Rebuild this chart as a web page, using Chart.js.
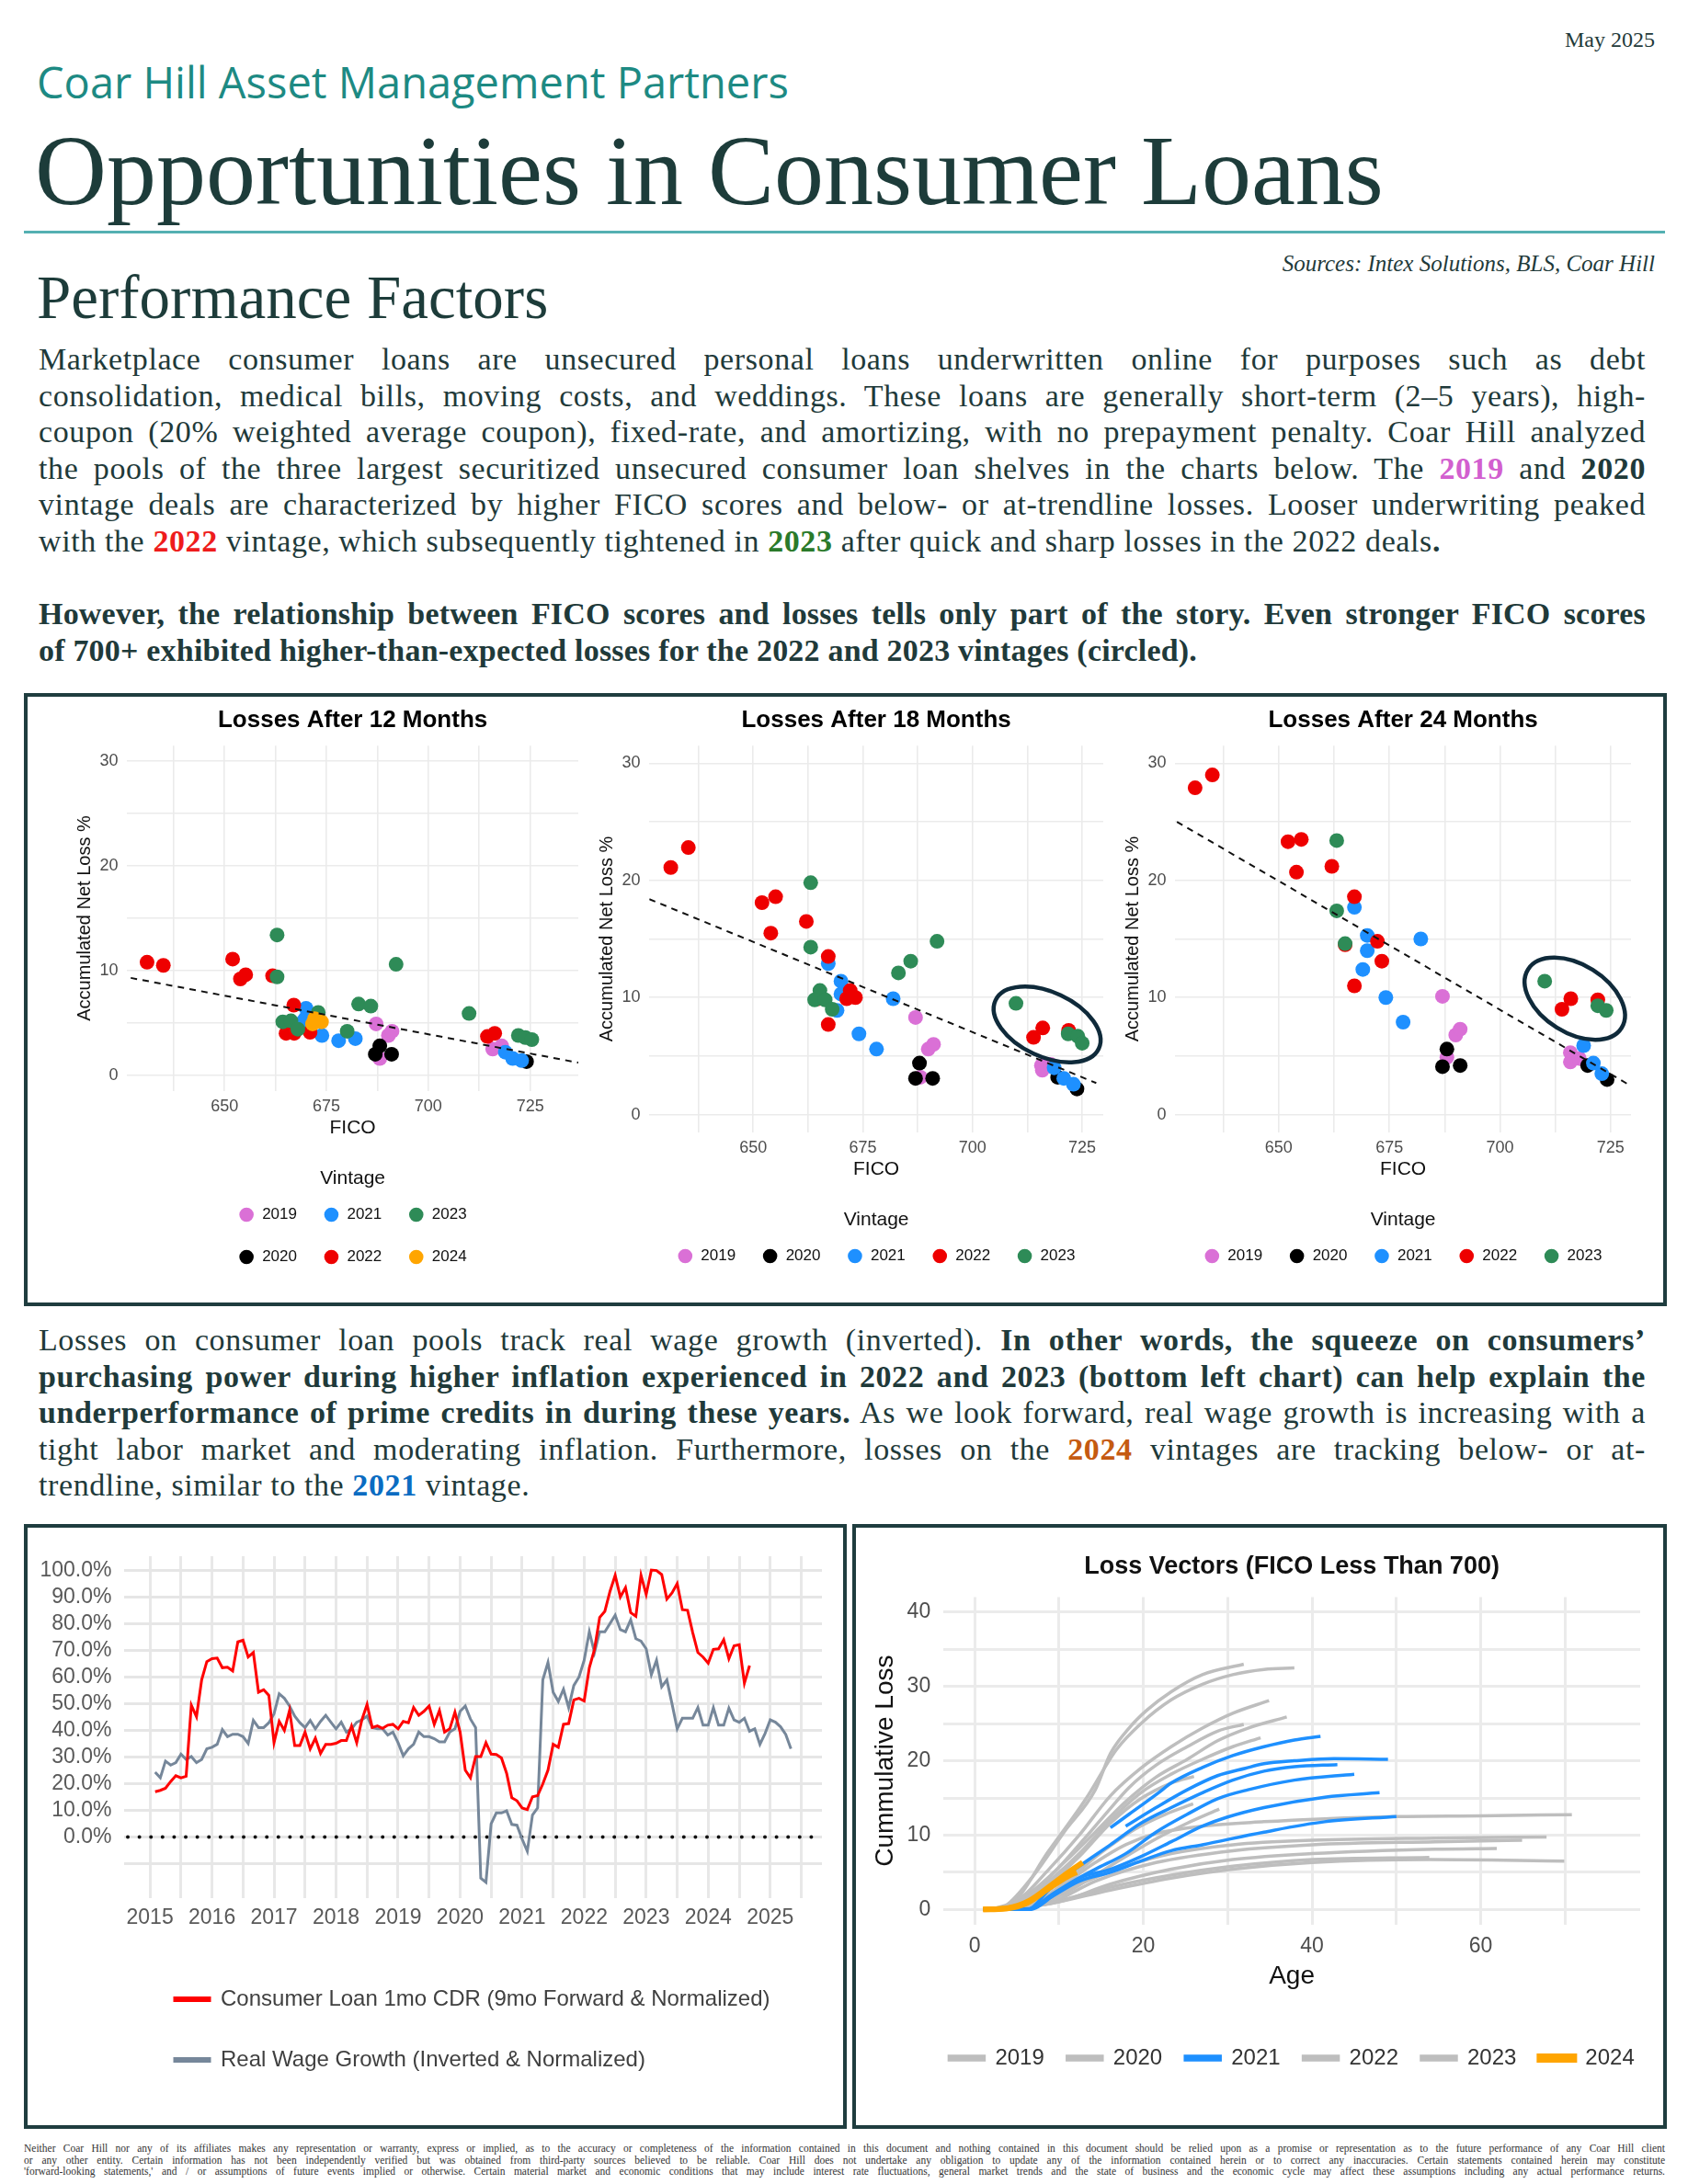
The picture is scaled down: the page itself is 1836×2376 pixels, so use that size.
<!DOCTYPE html>
<html lang="en">
<head>
<meta charset="utf-8">
<title>Opportunities in Consumer Loans</title>
<script src="https://cdn.jsdelivr.net/npm/chart.js@4.4.1/dist/chart.umd.min.js"></script>
<style>
  body { margin: 0; width: 1836px; height: 2376px; position: relative; overflow: hidden;
         background: #fff; color: #1f3a3a; font-family: "Liberation Serif", serif; }
  .abs { position: absolute; }
  #date { right: 36px; top: 29px; font-size: 24px; line-height: 28px; }
  #firm { left: 40px; top: 60px; font: 47px/58px "Open Sans", sans-serif; color: #1d8a83; }
  #title { left: 38px; top: 122px; font-size: 108px; line-height: 128px; color: #1d3c3a; }
  #rule { left: 26px; top: 251px; width: 1785px; height: 3px; background: #54b0b2; }
  #sources { right: 36px; top: 272px; font-style: italic; font-size: 25px; line-height: 30px; }
  #section { left: 40px; top: 286px; font-size: 67px; line-height: 74px; color: #1d3c3a; }
  .para { left: 42px; width: 1748px; font-size: 34px; line-height: 39.5px; letter-spacing: 0.6px; }
  .para.bold { font-weight: bold; letter-spacing: 0.2px; }
  .ln { text-align: justify; text-align-last: justify; white-space: normal; }
  .ln.end { text-align-last: left; }
  .pink { color: #d25fcf; font-weight: bold; }
  .red { color: #ee1c1c; font-weight: bold; }
  .grn { color: #2a7a2a; font-weight: bold; }
  .org { color: #c55a11; font-weight: bold; }
  .blu { color: #0a6cc2; font-weight: bold; }
  .box { position: absolute; border: 4px solid #1f3d3f; box-sizing: border-box; }
  canvas { position: absolute; }
  #footer { left: 26px; top: 2331px; width: 1785px; font-size: 11.5px; line-height: 12.5px; color: #333; }
</style>
</head>
<body>
<div class="abs" id="date">May 2025</div>
<div class="abs" id="firm">Coar Hill Asset Management Partners</div>
<div class="abs" id="title">Opportunities in Consumer Loans</div>
<div class="abs" id="rule"></div>
<div class="abs" id="sources">Sources: Intex Solutions, BLS, Coar Hill</div>
<div class="abs" id="section">Performance Factors</div>

<div class="abs para" style="top:371px">
  <div class="ln">Marketplace consumer loans are unsecured personal loans underwritten online for purposes such as debt</div>
  <div class="ln">consolidation, medical bills, moving costs, and weddings. These loans are generally short-term (2–5 years), high-</div>
  <div class="ln">coupon (20% weighted average coupon), fixed-rate, and amortizing, with no prepayment penalty. Coar Hill analyzed</div>
  <div class="ln">the pools of the three largest securitized unsecured consumer loan shelves in the charts below. The <span class="pink">2019</span> and <b>2020</b></div>
  <div class="ln">vintage deals are characterized by higher FICO scores and below- or at-trendline losses. Looser underwriting peaked</div>
  <div class="ln end">with the <span class="red">2022</span> vintage, which subsequently tightened in <span class="grn">2023</span> after quick and sharp losses in the 2022 deals<b>.</b></div>
</div>

<div class="abs para bold" style="top:648px">
  <div class="ln">However, the relationship between FICO scores and losses tells only part of the story. Even stronger FICO scores</div>
  <div class="ln end">of 700+ exhibited higher-than-expected losses for the 2022 and 2023 vintages (circled).</div>
</div>

<div class="box" style="left:26px; top:754px; width:1787px; height:667px"></div>
<canvas id="c12" width="612" height="657" style="left:30px; top:758px"></canvas>
<canvas id="c18" width="570" height="657" style="left:642px; top:758px"></canvas>
<canvas id="c24" width="597" height="657" style="left:1212px; top:758px"></canvas>

<div class="abs para" style="top:1438px">
  <div class="ln">Losses on consumer loan pools track real wage growth (inverted). <b>In other words, the squeeze on consumers’</b></div>
  <div class="ln"><b>purchasing power during higher inflation experienced in 2022 and 2023 (bottom left chart) can help explain the</b></div>
  <div class="ln"><b>underperformance of prime credits in during these years.</b> As we look forward, real wage growth is increasing with a</div>
  <div class="ln">tight labor market and moderating inflation. Furthermore, losses on the <span class="org">2024</span> vintages are tracking below- or at-</div>
  <div class="ln end">trendline, similar to the <span class="blu">2021</span> vintage.</div>
</div>

<div class="box" style="left:26px; top:1658px; width:895px; height:658px"></div>
<div class="box" style="left:927px; top:1658px; width:886px; height:658px"></div>
<canvas id="wage" width="887" height="650" style="left:30px; top:1662px"></canvas>
<canvas id="vectors" width="878" height="650" style="left:931px; top:1662px"></canvas>

<div class="abs" id="footer">
  <div class="ln">Neither Coar Hill nor any of its affiliates makes any representation or warranty, express or implied, as to the accuracy or completeness of the information contained in this document and nothing contained in this document should be relied upon as a promise or representation as to the future performance of any Coar Hill client</div>
  <div class="ln">or any other entity. Certain information has not been independently verified but was obtained from third-party sources believed to be reliable. Coar Hill does not undertake any obligation to update any of the information contained herein or to correct any inaccuracies. Certain statements contained herein may constitute</div>
  <div class="ln">'forward-looking statements,' and / or assumptions of future events implied or otherwise. Certain material market and economic conditions that may include interest rate fluctuations, general market trends and the state of business and the economic cycle may affect these assumptions including any actual performance returns.</div>
</div>

<script>
// ---------- scatter panels: [FICO, accumulated net loss %] ----------
var vintages = ['2019', '2020', '2021', '2022', '2023', '2024'];

var m12_2019 = [[687.2, 4.9], [688.1, 1.6], [690.2, 3.8], [691.1, 4.2], [715.8, 2.5], [718.0, 2.8]];
var m12_2020 = [[687.0, 2.0], [688.1, 2.8], [691.0, 2.0], [724.1, 1.3]];
var m12_2021 = [[670.0, 6.4], [669.8, 5.4], [668.9, 5.0], [673.9, 3.8], [678.0, 3.3], [682.1, 3.5], [718.9, 2.2], [720.7, 1.6], [722.9, 1.4]];
var m12_2022 = [[631.0, 10.8], [635.0, 10.5], [652.0, 11.1], [653.9, 9.2], [655.2, 9.6], [661.8, 9.5], [667.0, 6.7], [665.1, 4.0], [667.1, 4.0], [671.0, 4.1], [714.5, 3.7], [716.3, 4.0]];
var m12_2023 = [[662.9, 13.4], [662.9, 9.4], [682.9, 6.8], [685.9, 6.6], [692.1, 10.6], [680.1, 4.2], [664.3, 5.1], [666.3, 5.2], [668.0, 4.4], [673.0, 6.0], [710.0, 5.9], [722.1, 3.8], [723.8, 3.6], [725.4, 3.4]];
var m12_2024 = [[671.6, 4.9], [673.8, 5.1], [672.1, 5.4]];
var m12Trend = [[627.0, 9.3], [736.8, 1.2]];

var m18_2019 = [[687.0, 8.3], [689.9, 5.6], [691.1, 6.0], [688.1, 3.2], [715.9, 3.8], [715.7, 4.2], [717.8, 4.3]];
var m18_2020 = [[687.9, 4.4], [687.0, 3.1], [690.9, 3.1], [719.4, 3.2], [723.8, 2.2]];
var m18_2021 = [[667.1, 12.9], [670.0, 11.4], [670.0, 10.3], [669.1, 8.9], [674.1, 6.9], [678.1, 5.6], [681.9, 9.9], [718.6, 4.0], [720.8, 3.1], [723.0, 2.6]];
var m18_2022 = [[631.2, 21.1], [635.2, 22.8], [652.0, 18.1], [655.1, 18.6], [654.0, 15.5], [662.1, 16.5], [667.1, 13.5], [667.1, 7.7], [672.1, 10.6], [671.3, 9.9], [673.3, 10.0], [664.8, 9.9], [713.9, 6.6], [716.0, 7.4], [721.9, 7.2]];
var m18_2023 = [[663.1, 19.8], [663.1, 14.3], [665.2, 10.6], [664.0, 9.8], [666.4, 9.8], [668.0, 9.0], [683.1, 12.1], [685.9, 13.1], [691.9, 14.8], [709.9, 9.5], [721.8, 6.9], [724.0, 6.7], [725.0, 6.1]];
var m18Trend = [[626.3, 18.4], [728.2, 2.7]];

var m24_2019 = [[687.0, 10.1], [690.0, 6.8], [691.0, 7.3], [688.0, 4.9], [715.9, 5.3], [715.9, 4.5], [717.9, 4.8]];
var m24_2020 = [[688.0, 5.6], [687.0, 4.1], [691.0, 4.2], [719.8, 4.2], [724.2, 3.0]];
var m24_2021 = [[667.1, 17.7], [670.0, 15.3], [670.0, 14.0], [669.0, 12.4], [674.2, 10.0], [678.1, 7.9], [682.1, 15.0], [718.9, 5.9], [721.1, 4.4], [723.0, 3.5]];
var m24_2022 = [[631.1, 27.9], [635.0, 29.0], [652.1, 23.3], [655.1, 23.5], [654.0, 20.7], [662.0, 21.2], [667.1, 18.6], [672.3, 14.8], [673.3, 13.1], [667.1, 11.0], [665.0, 14.5], [714.0, 9.0], [716.0, 9.9], [722.1, 9.8]];
var m24_2023 = [[663.1, 23.4], [663.1, 17.4], [665.0, 14.6], [710.1, 11.4], [722.1, 9.3], [724.0, 8.9]];
var m24Trend = [[627.0, 25.0], [729.6, 2.45]];

// circled 2022/2023 clusters (centre in FICO / loss units)
var m18Circle = [717.0, 7.7];
var m24Circle = [716.9, 9.9];

// ---------- CDR vs real wage growth, monthly, months after Jan 2015 ----------
var wageYears = ['2015', '2016', '2017', '2018', '2019', '2020', '2021', '2022', '2023', '2024', '2025'];
var seriesStart = 1;
var cdrValues = [17.0, 17.5, 18.3, 20.8, 23.0, 22.2, 22.8, 49.5, 45.2, 59.0,
  65.9, 67.0, 67.2, 63.6, 63.8, 62.4, 73.3, 73.9, 67.6, 69.3,
  54.4, 55.3, 53.2, 35.4, 43.4, 40.0, 47.5, 34.3, 34.3, 39.4,
  33.1, 37.1, 31.4, 34.8, 34.8, 35.2, 36.2, 36.2, 41.7, 35.4,
  44.0, 49.8, 41.1, 41.7, 40.8, 42.0, 42.3, 40.6, 43.4, 42.9,
  48.6, 45.7, 47.2, 49.2, 42.3, 47.5, 39.4, 40.6, 46.9, 39.4,
  25.1, 22.2, 30.2, 30.2, 35.4, 31.1, 31.0, 29.7, 23.9, 14.7,
  13.6, 10.9, 10.3, 15.1, 15.5, 19.9, 25.1, 34.8, 33.7, 42.3,
  42.6, 51.5, 52.1, 51.1, 63.6, 70.5, 82.5, 84.8, 92.3, 98.3,
  90.2, 93.7, 84.3, 82.9, 98.3, 91.1, 100.3, 100.1, 98.6, 89.4,
  91.7, 95.2, 85.4, 85.2, 76.8, 69.3, 67.6, 65.3, 70.5, 70.7,
  74.1, 67.0, 71.8, 72.2, 57.8, 64.4];
var wageValues = [24.3, 22.2, 28.5, 27.0, 27.9, 31.1, 29.1, 30.2, 27.9, 29.1,
  33.1, 33.7, 34.8, 40.3, 37.7, 38.6, 38.6, 37.7, 35.1, 43.8,
  41.1, 41.1, 42.9, 46.3, 53.8, 52.1, 49.2, 45.4, 42.9, 41.1,
  43.8, 40.6, 43.4, 45.7, 43.1, 40.6, 43.1, 39.4, 40.6, 43.1,
  44.0, 45.4, 41.1, 40.6, 40.6, 38.3, 39.4, 35.4, 30.5, 33.1,
  34.8, 39.4, 37.7, 37.7, 36.9, 35.7, 35.7, 39.4, 40.6, 47.2,
  49.2, 44.3, 41.1, -15.5, -17.1, 4.9, 9.0, 9.0, 9.8, 4.7,
  4.4, -0.8, -5.4, 8.2, 10.9, 59.0, 65.6, 54.4, 50.9, 55.5,
  48.6, 56.9, 60.1, 66.4, 77.1, 69.3, 77.1, 77.1, 80.2, 83.3,
  77.9, 77.1, 81.6, 74.5, 73.6, 70.7, 61.0, 66.4, 56.4, 59.0,
  50.0, 40.6, 44.6, 44.6, 44.6, 48.6, 42.0, 42.0, 48.6, 42.0,
  42.0, 48.4, 44.0, 43.1, 44.6, 39.7, 40.6, 34.8, 38.9, 44.0,
  43.1, 41.4, 38.5, 33.1];

// ---------- loss vectors: each deal is a list of [age, cumulative loss] ----------
var vec2019 = [
  [[1, 0], [4, 0.1], [7, 0.9], [10.6, 3.4], [14.3, 6.3], [17.9, 8.7], [21.5, 10.2], [27, 11.2], [34.3, 11.8], [41.5, 12.2], [50, 12.5], [60, 12.6], [70.8, 12.75]],
  [[1, 0], [4, 0.1], [7, 0.7], [12.4, 3.4], [17.9, 5.8], [23.3, 7.5], [30.6, 8.7], [40, 9.3], [54.6, 9.6], [67.8, 9.75]],
  [[1, 0], [5, 0.2], [9, 0.9], [14.3, 3.8], [21.5, 6.3], [30.6, 7.9], [40, 8.7], [54.6, 9.1], [64.9, 9.3]],
  [[1, 0], [5, 0.2], [9, 0.8], [16.1, 2.6], [23.3, 4.2], [30.6, 5.4], [40, 6.3], [53.9, 6.7], [69.9, 6.5]]
];
var vec2020 = [
  [[1, 0], [5, 0.2], [10, 1.0], [16.1, 3.4], [23.3, 5.4], [30.6, 6.7], [40, 7.5], [54.6, 8.1], [61.9, 8.2]],
  [[1, 0], [5, 0.2], [9, 0.9], [16.1, 3.0], [23.3, 4.6], [30.6, 5.8], [40, 6.7], [53.9, 7.0]]
];
var vec2021 = [
  [[16.1, 11.0], [18.3, 12.8], [21.8, 15.7], [23.3, 17.0], [27, 19.1], [30.6, 20.7], [34.3, 21.9], [37.9, 22.8], [41, 23.3]],
  [[17.9, 11.2], [21.5, 13.7], [25.2, 16.1], [28.8, 18.0], [32.1, 19.0], [34.3, 19.6], [37.9, 20.0], [42.6, 20.3], [49, 20.2]],
  [[1, 0], [6.3, 0], [8.8, 2.6], [12.4, 5.8], [16.1, 8.7], [19.7, 11.6], [23.3, 13.7], [27, 15.7], [30.6, 17.4], [34.3, 18.6], [37.9, 19.2], [43, 19.5]],
  [[1, 0], [6.5, 0.1], [9, 1.9], [11.7, 3.8], [14.3, 5.4], [17.9, 7.5], [21.5, 10.4], [25.2, 12.8], [28.8, 14.9], [32.4, 16.1], [37.9, 17.4], [45, 18.2]],
  [[1, 0], [6.5, 0], [9.5, 2.0], [12.4, 4.2], [16.1, 5.4], [19.7, 7.1], [23.3, 9.1], [27, 11.2], [29.9, 12.4], [34.3, 13.7], [41.5, 15.1], [48, 15.7]],
  [[1, 0], [6.3, 0], [8.8, 1.5], [12.4, 3.8], [16.1, 5.0], [19.7, 6.5], [23.3, 7.9], [27, 8.7], [34.3, 10.4], [41.5, 11.8], [50, 12.5]]
];
var vec2022 = [
  [[2, 0], [3.7, 0.5], [7, 4.6], [10.6, 10.4], [14.3, 16.1], [16.1, 21.0], [18.3, 24.4], [20.4, 26.8], [23.3, 29.3], [27, 31.6], [31.9, 33.0]],
  [[2, 0], [4, 0.4], [8.8, 7.9], [13.2, 14.9], [16.8, 21.5], [19.7, 25.0], [23.3, 28.2], [27, 30.3], [30.6, 31.6], [34.3, 32.3], [37.9, 32.5]],
  [[2, 0], [5.2, 1.3], [8.8, 5.4], [12.4, 10.0], [16.1, 15.3], [19.7, 19.0], [23.3, 21.9], [27, 24.4], [30.6, 26.4], [34.9, 28.1]],
  [[2, 0], [4.1, 0.5], [7, 2.6], [10.6, 6.3], [14.3, 10.4], [17.9, 14.5], [21.5, 17.8], [25.2, 20.2], [28.8, 22.7], [32.4, 24.4], [37, 25.9]],
  [[2, 0], [5, 0.8], [9, 4.5], [13, 9.5], [16.1, 13.6], [18.3, 16.4], [21.5, 19.4], [25.2, 21.9], [28.8, 24.0], [31.9, 24.9]],
  [[2, 0], [5.2, 0.9], [8.8, 3.8], [12.4, 7.5], [16.1, 12.0], [19.7, 15.7], [23.3, 18.2], [27, 20.2], [30.6, 21.9], [33.9, 23.1]]
];
var vec2023 = [
  [[2, 0], [5.2, 0.7], [8.8, 3.4], [12.4, 7.1], [16.1, 11.6], [19.7, 14.9], [23.3, 17.0], [26, 17.9]],
  [[2, 0], [5, 0.3], [8.1, 1.5], [11.7, 4.6], [15.3, 7.9], [19, 10.8], [22.6, 12.8], [25.9, 14.2]],
  [[2, 0], [7, 0.5], [10.6, 2.1], [14.3, 4.6], [17.9, 7.1], [21.5, 9.5], [25.2, 11.6], [29, 13.5]]
];
var vec2024 = [
  [[1, 0], [3.7, 0.1], [6.3, 0.9], [8.8, 2.8], [11, 4.4], [12.1, 5.0]],
  [[1, 0], [4, 0.2], [6.5, 1.2], [9, 3.2], [11, 4.9], [12.8, 6.3]]
];

// ---------- styling ----------
var vintageColor = {'2019': '#da70d6', '2020': '#000000', '2021': '#1e90ff', '2022': '#ee0000', '2023': '#2e8b57', '2024': '#ffa500'};
var vectorColor = {'2019': '#bebebe', '2020': '#bebebe', '2021': '#1e90ff', '2022': '#bebebe', '2023': '#bebebe', '2024': '#ffa500'};
var vectorLayer = {'2019': 3, '2020': 3, '2021': 2, '2022': 3, '2023': 3, '2024': 1};

Chart.defaults.font.family = '"Liberation Sans", Arial, sans-serif';
Chart.defaults.animation = false;
Chart.defaults.events = [];

// wrap a legend at a chosen width, centred on the plot area, or nudge it sideways
var legendWidth = {
	id: 'legendWidth',
	beforeLayout(chart, args, opts) {
		var lg = chart.legend;
		if (!lg || !opts.width || lg._wrapped) return;
		var update = lg.update.bind(lg);
		lg.update = (w, h, m) => update(opts.width, h, m);
		lg._wrapped = true;
	},
	afterLayout(chart, args, opts) {
		var lg = chart.legend;
		if (!lg) return;
		if (opts.width) {
			var c = (chart.chartArea.left + chart.chartArea.right) / 2;
			lg.left = c - opts.width / 2;
			lg.right = c + opts.width / 2;
			lg.width = opts.width;
		}
		if (opts.shift) {
			lg.left += opts.shift;
			lg.right += opts.shift;
		}
	}
};

// ellipse round a cluster of points
var ring = {
	id: 'ring',
	afterDatasetsDraw(chart, args, opts) {
		if (!opts.center) return;
		var ctx = chart.ctx;
		ctx.save();
		ctx.beginPath();
		ctx.ellipse(chart.scales.x.getPixelForValue(opts.center[0]), chart.scales.y.getPixelForValue(opts.center[1]),
			opts.rx, opts.ry, opts.angle * Math.PI / 180, 0, 2 * Math.PI);
		ctx.lineWidth = 4.5;
		ctx.strokeStyle = '#0f2a3a';
		ctx.stroke();
		ctx.restore();
	}
};

// dotted line at 0%
var zeroLine = {
	id: 'zeroLine',
	beforeDatasetsDraw(chart) {
		var ctx = chart.ctx, a = chart.chartArea;
		var y = chart.scales.y.getPixelForValue(0);
		ctx.save();
		ctx.setLineDash([0, 12.6]);
		ctx.lineCap = 'round';
		ctx.lineWidth = 4;
		ctx.strokeStyle = '#111';
		ctx.beginPath();
		ctx.moveTo(a.left + 4, y);
		ctx.lineTo(a.right, y);
		ctx.stroke();
		ctx.restore();
	}
};

function pairs(list) {
	return list.map(p => ({x: p[0], y: p[1]}));
}

function lossPanel(id, title, sets, trend, xr, o) {
	var datasets = [];
	vintages.forEach((v, i) => {
		if (!sets[v]) return;
		datasets.push({type: 'scatter', label: v, data: pairs(sets[v]), backgroundColor: vintageColor[v],
			borderWidth: 0, pointRadius: 8, order: 10 - i});
	});
	datasets.push({type: 'line', label: 'trend', data: pairs(trend), borderColor: '#111', borderWidth: 2,
		borderDash: [7, 6], pointRadius: 0, fill: false, order: 0});

	return new Chart(document.getElementById(id), {
		type: 'scatter',
		data: {datasets: datasets},
		plugins: [legendWidth, ring],
		options: {
			responsive: false,
			layout: {padding: {left: o.left, right: o.right, top: 0, bottom: o.bottom}},
			plugins: {
				title: {display: true, text: title, color: '#000', fullSize: false,
					font: {size: 26, weight: 'bold'}, padding: {top: 10, bottom: 12}},
				legend: {
					position: 'bottom', fullSize: false,
					title: {display: true, text: 'Vintage', color: '#111', font: {size: 21, lineHeight: 0.6},
						padding: {top: 10, bottom: 0}},
					labels: {
						usePointStyle: true, pointStyle: 'circle', boxHeight: 11, padding: 29,
						color: '#111', font: {size: 17},
						filter: item => item.text !== 'trend',
						sort: (a, b) => o.order.indexOf(a.text) - o.order.indexOf(b.text)
					}
				},
				legendWidth: {width: o.legendWidth},
				ring: o.ring || {}
			},
			scales: {
				x: {
					type: 'linear', min: xr[0], max: xr[1],
					afterBuildTicks: axis => {
						var t = [];
						for (var v = Math.ceil(axis.min / 12.5) * 12.5; v <= axis.max; v += 12.5) t.push({value: v});
						axis.ticks = t;
					},
					ticks: {autoSkip: false, maxRotation: 0, padding: 8, color: '#4d4d4d', font: {size: 18, lineHeight: 1.0},
						callback: v => (v % 25 === 0 ? String(v) : '')},
					grid: {color: '#ebebeb', lineWidth: 1.6, drawTicks: false},
					border: {display: false},
					title: {display: true, text: 'FICO', color: '#111', font: {size: 21, lineHeight: 0.6},
						padding: {top: 0, bottom: 28}}
				},
				y: {
					min: -1.5, max: 31.5,
					afterBuildTicks: axis => {
						axis.ticks = [0, 5, 10, 15, 20, 25, 30].map(v => ({value: v}));
					},
					ticks: {padding: 9.6, color: '#4d4d4d', font: {size: 18},
						callback: v => (v % 10 === 0 ? String(v) : '')},
					grid: {color: '#ebebeb', lineWidth: 1.6, drawTicks: false},
					border: {display: false},
					title: {display: true, text: 'Accumulated Net Loss %', color: '#111', font: {size: 20, lineHeight: 0.7},
						padding: {top: 4, bottom: 0}}
				}
			}
		}
	});
}

var yearOrder = ['2019', '2020', '2021', '2022', '2023', '2024'];

lossPanel('c12', 'Losses After 12 Months',
	{'2019': m12_2019, '2020': m12_2020, '2021': m12_2021, '2022': m12_2022, '2023': m12_2023, '2024': m12_2024},
	m12Trend, [626.1, 736.8],
	{left: 51, right: 13, bottom: 29, legendWidth: 340, order: ['2019', '2021', '2023', '2020', '2022', '2024']});

lossPanel('c18', 'Losses After 18 Months',
	{'2019': m18_2019, '2020': m18_2020, '2021': m18_2021, '2022': m18_2022, '2023': m18_2023},
	m18Trend, [626.3, 729.8],
	{left: 7, right: 12, bottom: 30, legendWidth: 560, order: yearOrder,
		ring: {center: m18Circle, rx: 62, ry: 35, angle: 25}});

lossPanel('c24', 'Losses After 24 Months',
	{'2019': m24_2019, '2020': m24_2020, '2021': m24_2021, '2022': m24_2022, '2023': m24_2023},
	m24Trend, [626.6, 729.6],
	{left: 9, right: 35, bottom: 30, legendWidth: 560, order: yearOrder,
		ring: {center: m24Circle, rx: 60, ry: 37, angle: 32}});

// ---------- bottom left: CDR vs real wage growth ----------
function monthly(values) {
	return values.map((v, i) => ({x: seriesStart + i, y: v}));
}

new Chart(document.getElementById('wage'), {
	type: 'line',
	data: {
		datasets: [
			{label: 'Consumer Loan 1mo CDR (9mo Forward & Normalized)', data: monthly(cdrValues),
				borderColor: '#ff0000', backgroundColor: '#ff0000', borderWidth: 3, pointRadius: 0, tension: 0},
			{label: 'Real Wage Growth (Inverted & Normalized)', data: monthly(wageValues),
				borderColor: '#76879a', backgroundColor: '#76879a', borderWidth: 3, pointRadius: 0, tension: 0}
		]
	},
	plugins: [zeroLine, legendWidth],
	options: {
		responsive: false,
		layout: {padding: {left: 0, right: 23, top: 31, bottom: 49}},
		plugins: {
			legend: {
				position: 'bottom', align: 'start', fullSize: false,
				labels: {boxWidth: 38, boxHeight: 3, padding: 42, color: '#404040', font: {size: 24}}
			},
			legendWidth: {shift: 13}
		},
		scales: {
			x: {
				type: 'linear', min: -5, max: 130,
				afterBuildTicks: axis => {
					var t = [];
					for (var v = 0; v <= wageYears.length * 12 - 6; v += 6) t.push({value: v});
					axis.ticks = t;
				},
				ticks: {autoSkip: false, maxRotation: 0, padding: 11.2, color: '#595959', font: {size: 23, lineHeight: 0.94},
					callback: v => (v % 12 === 0 ? wageYears[v / 12] : '')},
				grid: {color: '#e8e8e8', lineWidth: 3, drawTicks: false},
				border: {display: false},
				title: {display: true, text: ' ', font: {size: 10, lineHeight: 1.2}, padding: 0}
			},
			y: {
				min: -23, max: 105.5,
				afterBuildTicks: axis => {
					var t = [];
					for (var v = -10; v <= 105; v += 5) t.push({value: v});
					axis.ticks = t;
				},
				ticks: {padding: 13.5, color: '#595959', font: {size: 23},
					callback: v => (v >= 0 && v <= 100 && v % 10 === 0 ? v.toFixed(1) + '%' : '')},
				grid: {color: '#e6e6e6', lineWidth: 3, drawTicks: false},
				border: {display: false}
			}
		}
	}
});

// ---------- bottom right: loss vectors ----------
var vectorSets = {'2019': vec2019, '2020': vec2020, '2021': vec2021, '2022': vec2022, '2023': vec2023, '2024': vec2024};
var vectorDatasets = [];
yearOrder.forEach(v => {
	vectorSets[v].forEach(curve => {
		vectorDatasets.push({
			label: v, data: pairs(curve), borderColor: vectorColor[v], backgroundColor: vectorColor[v],
			borderWidth: v === '2024' ? 6 : 3.5, pointRadius: 0, cubicInterpolationMode: 'monotone',
			order: vectorLayer[v]
		});
	});
});

new Chart(document.getElementById('vectors'), {
	type: 'line',
	data: {datasets: vectorDatasets},
	plugins: [legendWidth],
	options: {
		responsive: false,
		layout: {padding: {left: 18, right: 25, top: 0, bottom: 51}},
		plugins: {
			title: {display: true, text: 'Loss Vectors (FICO Less Than 700)', color: '#111', fullSize: false,
				font: {size: 27, weight: 'bold'}, padding: {top: 26, bottom: 17}},
			legend: {
				position: 'bottom', fullSize: false,
				labels: {
					boxWidth: 38, boxHeight: 4, padding: 25, color: '#333', font: {size: 24},
					filter: (item, data) => data.datasets.findIndex(d => d.label === item.text) === item.datasetIndex,
					sort: (a, b) => yearOrder.indexOf(a.text) - yearOrder.indexOf(b.text)
				}
			},
			legendWidth: {width: 840}
		},
		scales: {
			x: {
				type: 'linear', min: -3.7, max: 78.9,
				afterBuildTicks: axis => {
					axis.ticks = [0, 10, 20, 30, 40, 50, 60, 70].map(v => ({value: v}));
				},
				ticks: {autoSkip: false, maxRotation: 0, padding: 12.75, color: '#4d4d4d', font: {size: 23, lineHeight: 0.98},
					callback: v => (v % 20 === 0 ? String(v) : '')},
				grid: {color: '#ebebeb', lineWidth: 3, drawTicks: false},
				border: {display: false},
				title: {display: true, text: 'Age', color: '#111', font: {size: 28, lineHeight: 0.5},
					padding: {top: 1, bottom: 45}}
			},
			y: {
				min: -2.07, max: 42.05,
				afterBuildTicks: axis => {
					axis.ticks = [0, 5, 10, 15, 20, 25, 30, 35, 40].map(v => ({value: v}));
				},
				ticks: {padding: 14, color: '#4d4d4d', font: {size: 23},
					callback: v => (v % 10 === 0 ? String(v) : '')},
				grid: {color: '#ebebeb', lineWidth: 3, drawTicks: false},
				border: {display: false},
				title: {display: true, text: 'Cummulative Loss', color: '#111', font: {size: 28, lineHeight: 0.7},
					padding: {top: 4, bottom: 0}}
			}
		}
	}
});

// keep every text line on one line
document.querySelectorAll('.ln').forEach(el => {
	var cs = getComputedStyle(el);
	var fs = parseFloat(cs.fontSize);
	var lh = parseFloat(cs.lineHeight);
	while (el.offsetHeight > lh * 1.5 && fs > 6) {
		fs -= 0.25;
		el.style.fontSize = fs + 'px';
	}
});
</script>
</body>
</html>
